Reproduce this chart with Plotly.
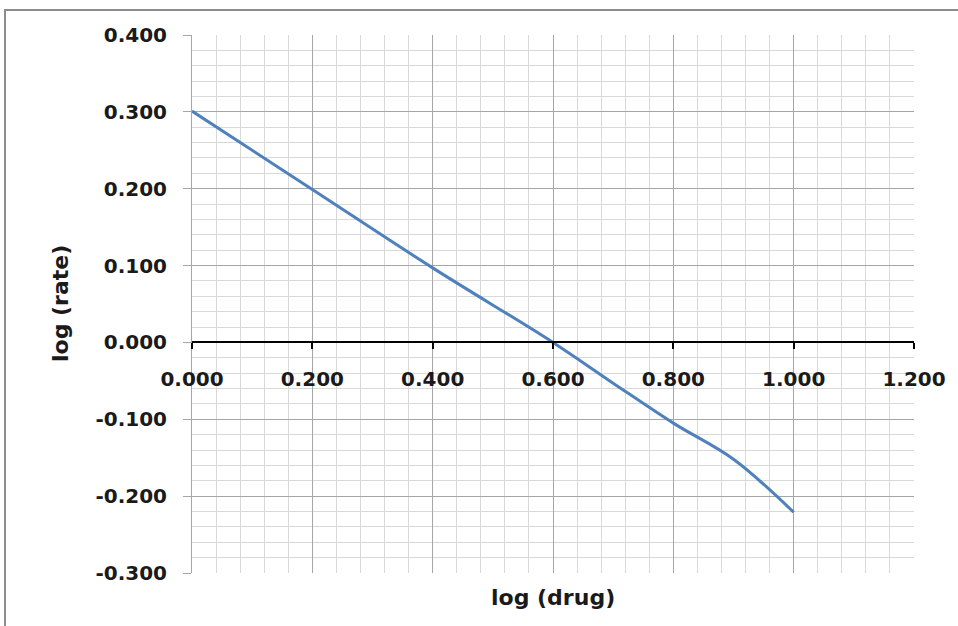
import plotly.graph_objects as go

# data
log_drug = [0.0, 0.2, 0.4, 0.6, 0.7, 0.8, 0.9, 1.0]
log_rate = [0.301, 0.199, 0.097, 0.0, -0.053, -0.105, -0.152, -0.221]

x_ticks = [0.0, 0.2, 0.4, 0.6, 0.8, 1.0, 1.2]
x_tick_labels = ["0.000", "0.200", "0.400", "0.600", "0.800", "1.000", "1.200"]
y_ticks = [-0.3, -0.2, -0.1, 0.0, 0.1, 0.2, 0.3, 0.4]
y_tick_labels = ["-0.300", "-0.200", "-0.100", "0.000", "0.100", "0.200", "0.300", "0.400"]

W, H = 958, 626
ml, mr, mt, mb = 192, 44, 35, 53
pw, ph = W - ml - mr, H - mt - mb

fnt = "DejaVu Sans"
txt = "#1a1a1a"
blue = "#4F81BD"
tick_font = dict(family=fnt, size=20, color=txt, weight="bold")
title_font = dict(family=fnt, size=22, color=txt, weight="bold")

fig = go.Figure(go.Scatter(
    x=log_drug, y=log_rate, mode="lines",
    line=dict(color=blue, width=3, shape="spline", smoothing=1.0),
    showlegend=False, hoverinfo="x+y"))

fig.update_xaxes(
    range=[0, 1.2], tickvals=x_ticks, ticktext=x_tick_labels,
    anchor="free", position=3 / 7,
    showline=True, linecolor="black", linewidth=2,
    ticks="outside", ticklen=6, tickwidth=2, tickcolor="black",
    ticklabelstandoff=13,
    showgrid=True, gridcolor="#a6a6a6", gridwidth=1,
    minor=dict(dtick=0.04, showgrid=True, gridcolor="#d9d9d9", gridwidth=1),
    zeroline=False, tickfont=tick_font)

fig.update_yaxes(
    range=[-0.3, 0.4], tickvals=y_ticks, ticktext=y_tick_labels,
    showline=True, linecolor="#a6a6a6", linewidth=1,
    ticks="outside", ticklen=8, tickcolor="#a6a6a6",
    ticklabelstandoff=12,
    showgrid=True, gridcolor="#a6a6a6", gridwidth=1,
    minor=dict(dtick=0.02, showgrid=True, gridcolor="#d9d9d9", gridwidth=1),
    zeroline=False, tickfont=tick_font)

# outer chart frame (only top and left edges fall inside the picture)
fig.add_shape(type="rect", xref="paper", yref="paper",
              x0=(5 - ml) / pw, x1=(W + 20 - ml) / pw,
              y0=-(mb + 20) / ph, y1=(H - 10 - mb) / ph,
              line=dict(color="#8c8c8c", width=2), layer="below")

fig.add_annotation(text="log (drug)", xref="paper", yref="paper",
                   x=0.5, y=-(597 - (H - mb)) / ph, showarrow=False,
                   xanchor="center", yanchor="middle", font=title_font)
fig.add_annotation(text="log (rate)", xref="paper", yref="paper",
                   x=(60 - ml) / pw, y=0.5, showarrow=False, textangle=-90,
                   xanchor="center", yanchor="middle", font=title_font)

fig.update_layout(
    width=W, height=H,
    margin=dict(l=ml, r=mr, t=mt, b=mb),
    paper_bgcolor="white", plot_bgcolor="white",
    font=dict(family=fnt, size=20, color=txt),
)

fig.write_html("out.html", config={"displayModeBar": False},
               post_script="document.body.style.margin='0';"
                           "document.body.style.overflow='hidden';")
